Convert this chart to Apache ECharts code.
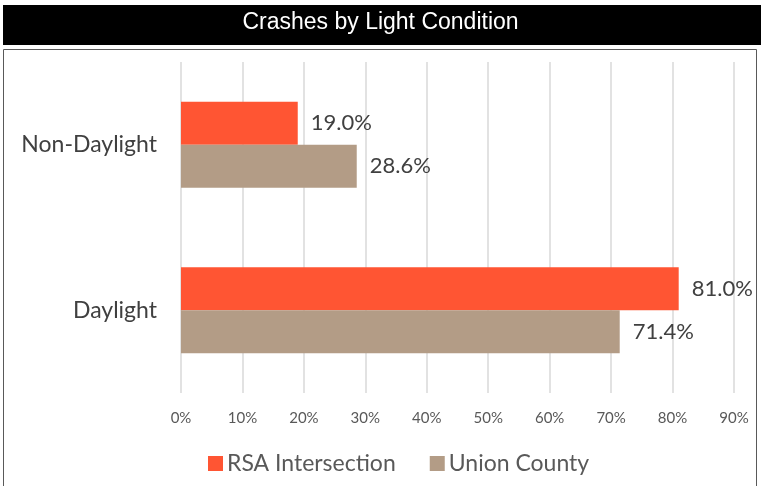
<!DOCTYPE html>
<html>
<head>
<meta charset="utf-8">
<script src="https://cdn.jsdelivr.net/npm/echarts@6/dist/echarts.min.js"></script>
<style>
  html, body { margin: 0; padding: 0; background: #fff; }
  #main { width: 761px; height: 486px; }
</style>
</head>
<body>
<div id="main"></div>
<script>
// data
const categories = ["Daylight", "Non-Daylight"];
const rsaValues = [81.0, 19.0];
const unionValues = [71.4, 28.6];
const seriesNames = ["RSA Intersection", "Union County"];

const chart = echarts.init(document.getElementById("main"));

const labelStyle = {
  show: true,
  position: "right",
  distance: 13,
  color: "#404040",
  fontFamily: "Lato",
  fontSize: 22,
  formatter: (p) => p.value.toFixed(1) + "%",
};

const option = {
  animation: false,
  // title bar and chart frame
  graphic: [
    {
      type: "rect",
      shape: { x: 3, y: 5, width: 760, height: 40 },
      style: { fill: "#000" },
    },
    {
      type: "rect",
      shape: { x: 3.5, y: 49.5, width: 753, height: 440 },
      style: { fill: "none", stroke: "#595959", lineWidth: 1 },
    },
    {
      type: "text",
      left: "center",
      top: 11,
      style: {
        text: "Crashes by Light Condition",
        fill: "#fff",
        font: '23px "Liberation Sans Narrow", "Liberation Sans", sans-serif',
      },
    },
  ],
  legend: {
    bottom: 6,
    left: 203,
    itemWidth: 15,
    itemHeight: 15,
    itemGap: 34,
    icon: "rect",
    textStyle: { color: "#595959", fontFamily: "Lato", fontSize: 23, padding: [0, 0, 0, -1] },
    data: seriesNames,
  },
  grid: { left: 181, right: 27, top: 62, bottom: 93, containLabel: false },
  xAxis: {
    type: "value",
    min: 0,
    max: 90,
    interval: 10,
    axisLine: { show: false },
    axisTick: { show: false },
    axisLabel: {
      color: "#595959",
      fontFamily: "Lato",
      fontSize: 15,
      margin: 18,
      formatter: "{value}%",
    },
    splitLine: { lineStyle: { color: "#d9d9d9", width: 1.5 } },
  },
  yAxis: {
    type: "category",
    data: categories,
    axisLine: { show: false },
    axisTick: { show: false },
    axisLabel: { color: "#404040", fontFamily: "Lato", fontSize: 23, margin: 24 },
  },
  series: [
    {
      name: seriesNames[0],
      type: "bar",
      data: rsaValues,
      barGap: "0%",
      barCategoryGap: "48%",
      itemStyle: { color: "#FF5533" },
      label: labelStyle,
    },
    {
      name: seriesNames[1],
      type: "bar",
      data: unionValues,
      barGap: "0%",
      barCategoryGap: "48%",
      itemStyle: { color: "#B39C86" },
      label: labelStyle,
    },
  ],
};

option && chart.setOption(option);
</script>
</body>
</html>
